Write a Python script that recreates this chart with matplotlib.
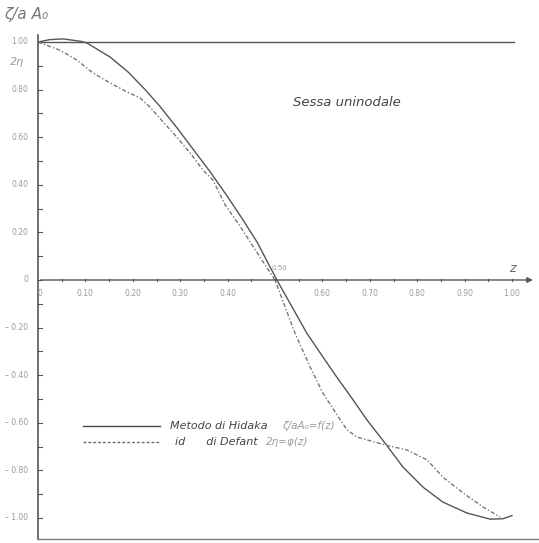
import matplotlib.pyplot as plt

# Values (z, ordinate)
z_hidaka = [0.0, 0.025, 0.053, 0.09, 0.103, 0.152, 0.19, 0.226, 0.257, 0.293, 0.327,
            0.363, 0.40, 0.43, 0.462, 0.504, 0.567, 0.601, 0.631, 0.662, 0.694, 0.732,
            0.77, 0.812, 0.854, 0.905, 0.954, 0.981, 1.0]
y_hidaka = [1.00, 1.01, 1.013, 1.003, 0.996, 0.937, 0.874, 0.80, 0.73, 0.64, 0.55,
            0.455, 0.35, 0.26, 0.16, 0.0, -0.223, -0.323, -0.41, -0.496, -0.588, -0.685,
            -0.786, -0.87, -0.933, -0.979, -1.005, -1.003, -0.99]

z_defant = [0.0, 0.046, 0.082, 0.116, 0.152, 0.188, 0.215, 0.236, 0.264, 0.293, 0.321,
            0.348, 0.369, 0.395, 0.425, 0.454, 0.50, 0.542, 0.574, 0.601, 0.631, 0.652,
            0.673, 0.732, 0.778, 0.821, 0.854, 0.897, 0.939, 0.975]
y_defant = [1.00, 0.966, 0.924, 0.87, 0.828, 0.79, 0.765, 0.727, 0.664, 0.60, 0.534,
            0.462, 0.42, 0.315, 0.23, 0.14, 0.0, -0.223, -0.365, -0.475, -0.567, -0.63,
            -0.66, -0.693, -0.714, -0.756, -0.828, -0.895, -0.954, -0.996]

x_ticks = [0.10, 0.20, 0.30, 0.40, 0.60, 0.70, 0.80, 0.90, 1.00]
x_labels = ["0.10", "0.20", "0.30", "0.40", "0.60", "0.70", "0.80", "0.90", "1.00"]
y_ticks = [1.0, 0.8, 0.6, 0.4, 0.2, 0.0, -0.2, -0.4, -0.6, -0.8, -1.0]
y_labels = ["1.00", "0.80", "0.60", "0.40", "0.20", "0", "\u2013 0.20", "\u2013 0.40",
            "\u2013 0.60", "\u2013 0.80", "\u2013 1.00"]

fig = plt.figure(figsize=(5.39, 5.43), dpi=100)
ax = fig.add_axes([0, 0, 1, 1])
ax.set_xlim(-38 / 474, (539 - 38) / 474)
ax.set_ylim(-263 / 238, 280 / 238)
ax.axis("off")

frame = "#555555"
label_c = "#9a9a9a"

# frame / axes drawn as in the original sheet
ax.plot([0, 0], [1.03, -1.09], color=frame, lw=1.2)
ax.plot([0, 1.005], [1.0, 1.0], color=frame, lw=1.0)
ax.plot([0, 1.06], [-1.088, -1.088], color="#777777", lw=1.0)
ax.annotate("", xy=(1.05, 0), xytext=(0, 0),
            arrowprops=dict(arrowstyle="-|>", color=frame, lw=1.0, mutation_scale=8))

# small ticks
for t in [i / 20 for i in range(1, 21)]:
    ax.plot([t, t], [-0.006, 0.006], color=frame, lw=0.8)
for t in [i / 10 for i in range(-10, 11)]:
    ax.plot([0, 0.008], [t, t], color=frame, lw=0.8)

ax.plot(z_hidaka, y_hidaka, color="#555555", lw=1.0)
ax.plot(z_defant, y_defant, color="#777777", lw=1.0, linestyle=(0, (3, 1.5, 1, 1.5)))

for t, lab in zip(x_ticks, x_labels):
    ax.text(t, -0.055, lab, fontsize=5.5, color=label_c, ha="center", va="center")
ax.text(0.005, -0.055, "0", fontsize=5.5, color=label_c, ha="center", va="center")
ax.text(0.51, 0.05, "0.50", fontsize=5, color=label_c, ha="center", va="center")
for t, lab in zip(y_ticks, y_labels):
    ax.text(-0.02, t, lab, fontsize=5.5, color=label_c, ha="right", va="center")

ax.text(1.0, 0.05, "z", fontsize=9, color="#666666", style="italic", ha="center", va="center")
ax.text(-0.072, 1.115, "\u03b6/a A\u2080", fontsize=11, color="#777777", style="italic",
        ha="left", va="center")
ax.text(-0.045, 0.915, "2\u03b7", fontsize=8, color="#999999", style="italic",
        ha="center", va="center")
ax.text(0.652, 0.745, "Sessa uninodale", fontsize=9.5, color="#444444", style="italic",
        ha="center", va="center")

# legend drawn by hand
ax.plot([0.095, 0.257], [-0.612, -0.612], color="#4a4a4a", lw=1.0)
ax.plot([0.095, 0.257], [-0.68, -0.68], color="#6a6a6a", lw=1.0, linestyle=(0, (2, 1.5)))
ax.text(0.278, -0.612, "Metodo di Hidaka", fontsize=8, color="#444444", style="italic",
        va="center")
ax.text(0.515, -0.612, "\u03b6/aA\u2080=f(z)", fontsize=7.5, color="#999999",
        style="italic", va="center")
ax.text(0.29, -0.68, "id      di Defant", fontsize=8, color="#444444", style="italic",
        va="center")
ax.text(0.48, -0.68, "2\u03b7=\u03c6(z)", fontsize=7.5, color="#999999", style="italic",
        va="center")

fig.savefig("out.png", dpi=100)
